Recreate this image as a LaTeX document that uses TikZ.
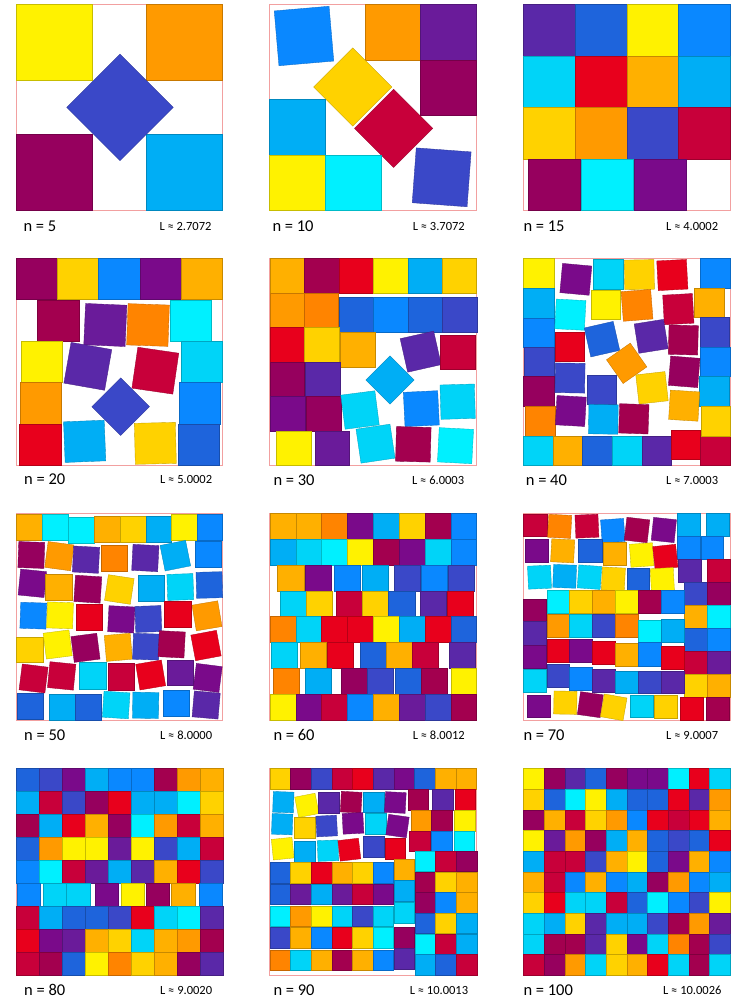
\documentclass[tikz,border=0pt]{standalone}
\usepackage{fontspec}
\setmainfont{Carlito}
\definecolor{cY}{HTML}{FFF200}
\definecolor{cG}{HTML}{FFD200}
\definecolor{cA}{HTML}{FFB000}
\definecolor{cO}{HTML}{FF9A00}
\definecolor{cD}{HTML}{FF8400}
\definecolor{cR}{HTML}{E8001C}
\definecolor{cC}{HTML}{C8003A}
\definecolor{cM}{HTML}{A3004F}
\definecolor{cW}{HTML}{96005E}
\definecolor{cP}{HTML}{7A0A8A}
\definecolor{cQ}{HTML}{6A1B9A}
\definecolor{cV}{HTML}{5A28A8}
\definecolor{cI}{HTML}{3A48C8}
\definecolor{cB}{HTML}{1E64DC}
\definecolor{cZ}{HTML}{0A88FF}
\definecolor{cS}{HTML}{00AEF5}
\definecolor{cL}{HTML}{00D4F8}
\definecolor{cX}{HTML}{00F0FF}
\definecolor{frameC}{HTML}{F2A0A0}
\tikzset{
  sqbox/.style={line width=.35pt},
  frame/.style={draw=frameC, line width=.7pt},
  nlab/.style={anchor=base west, inner sep=0pt, font=\fontsize{16.5}{18}\selectfont},
  llab/.style={anchor=base east, inner sep=0pt, font=\fontsize{12.5}{14}\selectfont},
  panel/.style={scale=1/3}
}
\newcommand\sq[5]{\filldraw[sqbox,fill=#1,draw=#1!78!black] ({#2},{#3}) rectangle ({#4},{#5});}
\newcommand\rs[5]{\filldraw[sqbox,fill=#1,draw=#1!78!black,rotate around={0-(#5):(#2,#3)}] ({#2-#4/2},{#3-#4/2}) rectangle ({#2+#4/2},{#3+#4/2});}
\newcommand\sqrow[4]{\foreach \col [count=\k from 0] in {#4} {\sq{\col}{#1+\k*#3}{#2}{#1+\k*#3+#3}{#2+#3}}}
\begin{document}
\begin{tikzpicture}[x=1pt,y=-1pt]
\useasboundingbox (0,0) rectangle (747,1000);
\fill[white] (0,0) rectangle (747,1000);

% ---------- n = 5
\begin{scope}[shift={(0,0)},panel]
\draw[frame] (48,13) rectangle (668,632);
\sq{cY}{48}{13}{278}{242}
\sq{cO}{440}{13}{668}{242}
\sq{cW}{48}{403}{278}{632}
\sq{cS}{440}{403}{668}{632}
\rs{cI}{360}{322}{226}{45}
\node[nlab] (n5) at (70,695) {n = 5};
\node[llab] (l5) at (635,692) {L ≈ 2.7072};
\end{scope}

% ---------- n = 10
\begin{scope}[shift={(255,0)},panel]
\draw[frame] (43,13) rectangle (665,632);
\rs{cZ}{147}{108}{165}{-4.9}
\sq{cO}{330}{13}{497}{180}
\sq{cQ}{497}{13}{665}{180}
\sq{cW}{497}{180}{665}{347}
\rs{cG}{293}{261}{166}{-45}
\rs{cC}{416}{385}{166}{-45}
\sq{cS}{43}{297}{212}{465}
\sq{cY}{43}{465}{212}{632}
\sq{cX}{212}{465}{380}{632}
\rs{cI}{560}{532}{165}{4.2}
\node[nlab] (n10) at (52,695) {n = 10};
\node[llab] (l10) at (630,692) {L ≈ 3.7072};
\end{scope}

% ---------- n = 15
\begin{scope}[shift={(505,0)},panel]
\draw[frame] (55,13) rectangle (675,632);
\sqrow{55}{13}{155}{cV,cB,cY,cZ}
\sqrow{55}{168}{155}{cL,cR,cA,cS}
\sqrow{55}{323}{155}{cG,cO,cI,cC}
\sq{cW}{70}{478}{225}{632}
\sq{cX}{227}{478}{383}{632}
\sq{cP}{387}{478}{542}{632}
\node[nlab] (n15) at (55,695) {n = 15};
\node[llab] (l15) at (640,692) {L ≈ 4.0002};
\end{scope}

% ---------- n = 20
\begin{scope}[shift={(0,250)},panel]
\draw[frame] (48,25) rectangle (668,645);
\sqrow{48}{25}{124}{cW,cG,cZ,cP,cA}
\sq{cM}{112}{150}{237}{273}
\rs{cQ}{316}{225}{124}{2.5}
\rs{cD}{444}{225}{124}{2}
\sq{cX}{510}{150}{635}{275}
\sq{cY}{63}{275}{188}{398}
\rs{cV}{263.5}{349}{124}{10}
\rs{cC}{466}{362}{124}{8.3}
\sq{cL}{543}{275}{668}{398}
\sq{cO}{60}{398}{185}{522}
\rs{cI}{362}{470}{122}{45}
\sq{cZ}{537}{398}{660}{522}
\sq{cR}{58}{522}{183}{645}
\rs{cS}{254}{574}{122}{-2.3}
\rs{cG}{466}{580}{123}{-1.4}
\sq{cB}{535}{522}{658}{645}
\node[nlab] (n20) at (72,703) {n = 20};
\node[llab] (l20) at (637,700) {L ≈ 5.0002};
\end{scope}

% ---------- n = 30
\begin{scope}[shift={(255,250)},panel]
\draw[frame] (43,25) rectangle (665,645);
\sqrow{45}{25}{103.3}{cA,cM,cR,cY,cS,cG}
\sq{cO}{45}{130}{148}{233}
\sq{cD}{148}{130}{250}{233}
\sqrow{252}{142}{103.3}{cB,cZ,cB,cI}
\sq{cR}{45}{233}{148}{338}
\sq{cG}{148}{233}{252}{338}
\sq{cA}{255}{248}{360}{352}
\rs{cV}{497}{305}{103}{-12.7}
\sq{cC}{557}{255}{662}{358}
\sq{cW}{45}{338}{148}{440}
\sq{cV}{150}{338}{255}{440}
\rs{cS}{405}{390}{102}{45}
\sq{cP}{47}{440}{152}{545}
\sq{cW}{155}{440}{258}{545}
\rs{cL}{315}{480}{103}{-7.3}
\rs{cZ}{499}{476}{103}{-2.8}
\rs{cL}{608}{455}{103}{-1.7}
\sq{cY}{65}{545}{170}{645}
\sq{cQ}{180}{545}{283}{645}
\rs{cL}{361.5}{581}{103}{-8.4}
\rs{cM}{475}{583}{104}{1.5}
\rs{cX}{601.5}{587}{103}{3}
\node[nlab] (n30) at (55,705) {n = 30};
\node[llab] (l30) at (628,702) {L ≈ 6.0003};
\end{scope}

% ---------- n = 40
\begin{scope}[shift={(505,250)},panel]
\draw[frame] (55,25) rectangle (675,645);
\sq{cY}{55}{25}{147}{115}
\sq{cS}{55}{115}{147}{205}
\sq{cZ}{55}{205}{147}{292}
\sq{cI}{58}{292}{147}{380}
\sq{cW}{55}{380}{147}{468}
\sq{cD}{60}{468}{150}{558}
\sq{cL}{55}{558}{145}{645}
\sq{cA}{145}{558}{232}{645}
\sq{cB}{232}{558}{320}{645}
\sq{cL}{320}{558}{410}{645}
\sq{cV}{410}{558}{498}{645}
\sq{cR}{498}{540}{586}{628}
\sq{cC}{586}{558}{675}{645}
\sq{cZ}{585}{25}{675}{115}
\sq{cA}{567}{115}{657}{203}
\sq{cI}{585}{203}{673}{292}
\sq{cZ}{585}{292}{675}{380}
\sq{cS}{583}{380}{673}{468}
\sq{cG}{587}{468}{675}{558}
\rs{cP}{212.5}{88}{88}{5.2}
\sq{cL}{265}{28}{353}{118}
\rs{cG}{403}{74}{89}{-1}
\rs{cR}{502}{75}{89}{-3}
\rs{cX}{196}{194}{89}{3}
\sq{cY}{257}{120}{345}{208}
\rs{cD}{396}{166}{89}{-4.5}
\rs{cC}{520}{177.5}{89}{-3.2}
\sq{cR}{150}{247}{238}{335}
\rs{cB}{291}{267.5}{89}{-12.8}
\rs{cV}{438.5}{259}{89}{-9}
\rs{cM}{535}{270}{88}{1.5}
\rs{cO}{365}{340}{87}{-35}
\rs{cI}{195}{384}{89}{1}
\rs{cW}{537.5}{365.5}{88}{4.5}
\sq{cI}{245}{375}{333}{462}
\rs{cG}{441}{413.5}{88}{-6.5}
\rs{cP}{197.5}{483}{88}{3.2}
\rs{cS}{295}{508}{88}{1}
\rs{cM}{386.5}{506.5}{88}{2}
\rs{cA}{537.5}{467}{88}{3.5}
\node[nlab] (n40) at (62,705) {n = 40};
\node[llab] (l40) at (640,702) {L ≈ 7.0003};
\end{scope}

% ---------- n = 50
\begin{scope}[shift={(0,505)},panel]
\draw[frame] (48,25) rectangle (668,645);
\sq{cA}{50}{28}{128}{105}
\sq{cX}{128}{28}{205}{105}
\sq{cX}{205}{38}{283}{115}
\sq{cA}{283}{35}{360}{113}
\sq{cG}{360}{35}{438}{113}
\sq{cS}{438}{35}{515}{113}
\sq{cY}{515}{28}{592}{105}
\sq{cZ}{592}{28}{668}{105}
\rs{cW}{94}{150}{78}{2}
\rs{cO}{178}{153.5}{78}{7.6}
\rs{cV}{258}{164}{78}{3}
\sq{cD}{303}{120}{381}{198}
\rs{cV}{436}{159}{78}{3}
\rs{cS}{526}{152}{78}{-11.3}
\sq{cZ}{587}{110}{665}{188}
\rs{cP}{97}{235}{78}{5.7}
\sq{cA}{137}{208}{217}{287}
\rs{cW}{263.5}{252.5}{79}{3.6}
\rs{cG}{358}{253.5}{78}{8.6}
\sq{cS}{415}{210}{493}{288}
\rs{cL}{541}{246}{78}{-2}
\rs{cB}{628}{240}{78}{-1.5}
\rs{cZ}{100}{332}{78}{2}
\rs{cY}{180}{331}{78}{2}
\sq{cR}{230}{298}{307}{375}
\rs{cP}{364}{343}{78}{3}
\rs{cI}{445}{342}{78}{-2}
\sq{cR}{493}{290}{573}{368}
\rs{cO}{621}{332.5}{78}{-9.6}
\sq{cG}{50}{397}{130}{473}
\rs{cY}{173}{418.5}{78}{-7.3}
\rs{cW}{256.5}{428.5}{78}{-7.4}
\rs{cA}{355}{427}{78}{-5}
\rs{cI}{438}{425}{78}{2}
\rs{cM}{515}{418}{78}{3}
\rs{cR}{618}{421.5}{78}{-10.6}
\rs{cC}{100.75}{520.5}{78}{7.1}
\rs{cC}{185}{512.75}{78}{5.7}
\sq{cL}{238}{473}{318}{552}
\sq{cC}{325}{475}{403}{555}
\rs{cR}{452}{510}{78}{-9.5}
\sq{cQ}{502}{465}{580}{542}
\rs{cP}{623}{518.75}{78}{7.2}
\sq{cB}{52}{565}{130}{643}
\sq{cS}{148}{567}{226}{645}
\sq{cB}{226}{567}{305}{645}
\rs{cL}{348.5}{600}{78}{3.7}
\rs{cS}{437}{601}{78}{1}
\sq{cZ}{490}{555}{568}{633}
\rs{cV}{618.5}{600}{78}{5}
\node[nlab] (n50) at (72,707) {n = 50};
\node[llab] (l50) at (637,704) {L ≈ 8.0000};
\end{scope}

% ---------- n = 60
\begin{scope}[shift={(255,505)},panel]
\draw[frame] (43,25) rectangle (665,645);
\sqrow{45}{25}{77.5}{cA,cA,cD,cP,cS,cG,cM,cZ}
\sqrow{45}{103}{77.5}{cS,cL,cX,cY,cM,cP,cL,cZ}
\sq{cA}{68}{180}{148}{258}
\sq{cP}{150}{180}{230}{258}
\sq{cZ}{238}{180}{316}{258}
\sq{cS}{322}{180}{400}{258}
\sq{cI}{418}{180}{496}{258}
\sq{cZ}{498}{180}{578}{258}
\sq{cI}{580}{180}{658}{258}
\sq{cL}{75}{258}{155}{335}
\sq{cG}{155}{258}{233}{335}
\sq{cC}{243}{258}{321}{335}
\sq{cG}{323}{258}{401}{335}
\sq{cB}{401}{258}{480}{335}
\sq{cV}{495}{258}{573}{335}
\sq{cR}{578}{258}{656}{335}
\sqrow{45}{335}{77.5}{cD,cL,cR,cR,cY,cS,cR,cB}
\sq{cL}{50}{413}{128}{490}
\sq{cA}{135}{413}{213}{490}
\sq{cR}{218}{413}{296}{490}
\sq{cB}{316}{413}{394}{490}
\sq{cA}{394}{413}{472}{490}
\sq{cC}{472}{413}{550}{490}
\sq{cV}{583}{413}{661}{490}
\sq{cD}{55}{490}{133}{568}
\sq{cS}{150}{490}{228}{568}
\sq{cW}{258}{490}{336}{568}
\sq{cI}{338}{490}{416}{568}
\sq{cB}{420}{490}{498}{568}
\sq{cM}{498}{490}{576}{568}
\sq{cY}{588}{490}{665}{568}
\sqrow{45}{568}{77.5}{cY,cP,cC,cZ,cA,cQ,cI,cM}
\node[nlab] (n60) at (55,705) {n = 60};
\node[llab] (l60) at (630,702) {L ≈ 8.0012};
\end{scope}

% ---------- n = 70
\begin{scope}[shift={(505,505)},panel]
\draw[frame] (55,25) rectangle (675,645);
\sq{cS}{517}{25}{585}{93}
\sq{cS}{603}{25}{671}{93}
\sq{cZ}{517}{93}{585}{163}
\sq{cZ}{587}{93}{655}{163}
\sq{cV}{520}{163}{588}{233}
\sq{cC}{605}{163}{675}{233}
\sqrow{538}{233}{68.5}{cI,cW}
\sqrow{538}{301}{68.5}{cA,cX}
\sqrow{538}{370}{68.5}{cB,cZ}
\sqrow{538}{438}{68.5}{cC,cQ}
\sqrow{538}{507}{68.5}{cG,cA}
\sq{cR}{525}{576}{593}{645}
\sq{cM}{603}{576}{671}{645}
\sq{cC}{55}{28}{125}{95}
\rs{cD}{164}{64}{69}{3}
\rs{cC}{245.75}{63.5}{69}{-2.5}
\rs{cZ}{323.5}{77}{69}{-4}
\rs{cM}{396}{75}{69}{6.7}
\rs{cP}{476.5}{75}{69}{6}
\sq{cP}{60}{103}{128}{172}
\rs{cA}{173}{137.5}{69}{3}
\sq{cB}{220}{103}{290}{172}
\sq{cA}{293}{113}{362}{182}
\rs{cY}{410}{150}{69}{-4}
\rs{cR}{481}{155.75}{69}{-6}
\rs{cL}{103.5}{216.5}{69}{-2.5}
\rs{cS}{179}{214}{69}{2}
\rs{cL}{253.5}{216.5}{69}{4}
\rs{cG}{325}{222}{69}{3}
\sq{cB}{365}{190}{433}{258}
\rs{cY}{472}{224}{69}{-3}
\sqrow{125}{255}{68.8}{cX,cG,cA,cY,cM,cZ}
\sq{cW}{55}{282}{123}{350}
\sq{cV}{55}{350}{123}{420}
\sq{cP}{55}{420}{123}{490}
\sq{cL}{55}{493}{123}{563}
\sq{cO}{125}{328}{193}{397}
\sq{cL}{193}{328}{262}{397}
\sq{cI}{262}{328}{330}{397}
\sq{cD}{330}{328}{400}{397}
\sq{cX}{400}{345}{468}{413}
\sq{cS}{468}{343}{538}{412}
\sq{cR}{125}{403}{193}{473}
\sq{cP}{193}{403}{262}{473}
\sq{cR}{262}{410}{330}{478}
\sq{cA}{330}{415}{400}{485}
\sq{cZ}{400}{413}{468}{483}
\sq{cR}{468}{425}{538}{493}
\sq{cI}{125}{478}{193}{548}
\sq{cZ}{193}{488}{262}{555}
\sq{cV}{262}{493}{330}{562}
\sq{cS}{330}{498}{400}{566}
\sq{cI}{400}{498}{468}{566}
\sq{cV}{468}{498}{538}{566}
\sq{cP}{65}{570}{135}{638}
\rs{cG}{181}{593}{69}{1}
\rs{cW}{256}{599}{69}{8}
\rs{cG}{326}{607}{69}{10}
\sq{cL}{375}{570}{443}{638}
\sq{cG}{447}{572}{517}{640}
\node[nlab] (n70) at (55,705) {n = 70};
\node[llab] (l70) at (640,702) {L ≈ 9.0007};
\end{scope}

% ---------- n = 80
\begin{scope}[shift={(0,760)},panel]
\draw[frame] (48,25) rectangle (668,645);
\sqrow{48}{25}{68.9}{cB,cI,cP,cS,cZ,cZ,cM,cO,cA}
\sqrow{48}{93.9}{68.9}{cS,cC,cI,cW,cR,cS,cS,cX,cG}
\sqrow{48}{162.8}{68.9}{cM,cS,cR,cA,cW,cX,cO,cC,cA}
\sqrow{48}{231.7}{68.9}{cB,cO,cY,cY,cQ,cY,cI,cS,cC}
\sqrow{48}{300.6}{68.9}{cZ,cX,cC,cQ,cS,cV,cA,cR,cI}
\sq{cZ}{52}{369.5}{120}{438.4}
\sq{cL}{130}{369.5}{198}{438.4}
\sq{cL}{200}{369.5}{270}{438.4}
\sq{cP}{285}{369.5}{355}{438.4}
\sq{cY}{363}{369.5}{433}{438.4}
\sq{cW}{440}{369.5}{508}{438.4}
\sq{cA}{515}{369.5}{585}{438.4}
\sq{cZ}{598}{369.5}{668}{438.4}
\sqrow{48}{438.4}{68.9}{cC,cS,cB,cB,cI,cR,cL,cX,cV}
\sqrow{48}{507.3}{68.9}{cR,cP,cQ,cA,cG,cL,cA,cO,cM}
\sqrow{48}{576.2}{68.9}{cC,cM,cB,cY,cD,cG,cA,cW,cV}
\node[nlab] (n80) at (72,707) {n = 80};
\node[llab] (l80) at (637,704) {L ≈ 9.0020};
\end{scope}

% ---------- n = 90
\begin{scope}[shift={(255,760)},panel]
\draw[frame] (43,25) rectangle (665,645);
\sqrow{45}{25}{62}{cG,cW,cI,cC,cR,cV,cP,cB,cA,cA}
\sq{cM}{460}{88}{520}{150}
\sq{cV}{532}{88}{595}{150}
\sq{cR}{600}{88}{662}{150}
\sq{cO}{468}{150}{530}{212}
\sq{cM}{530}{150}{592}{212}
\sq{cY}{598}{150}{660}{212}
\sq{cC}{463}{212}{525}{273}
\sq{cZ}{530}{212}{592}{273}
\sq{cX}{597}{212}{657}{273}
\sqrow{480}{273}{61.7}{cX,cC,cW}
\sqrow{480}{335}{61.7}{cM,cG,cA}
\sqrow{480}{397}{61.7}{cW,cZ,cA}
\sqrow{480}{459}{61.7}{cB,cG,cS}
\sqrow{480}{521}{61.7}{cX,cC,cS}
\sqrow{480}{583}{61.7}{cS,cB,cC}
\rs{cS}{85}{126.5}{62}{2}
\rs{cY}{155.5}{136}{62}{-11}
\sq{cV}{190}{95}{253}{158}
\rs{cM}{288.5}{126.5}{62}{3}
\sq{cS}{325}{95}{388}{157}
\rs{cP}{421}{127.5}{62}{3}
\rs{cS}{81.5}{192.5}{62}{2}
\sq{cG}{118}{172}{180}{235}
\rs{cI}{215}{198}{62}{-3}
\rs{cP}{294}{190}{62}{-3}
\sq{cL}{330}{160}{393}{223}
\rs{cP}{427.5}{198}{62}{8}
\rs{cY}{83}{266}{62}{-5.7}
\sq{cS}{117}{242}{180}{305}
\rs{cL}{219}{272}{62}{-2}
\rs{cR}{283}{269}{62}{-6.6}
\sq{cI}{325}{228}{387}{290}
\sq{cR}{390}{235}{452}{297}
\sqrow{45}{307}{61.8}{cB,cG,cR,cA,cG,cZ}
\sq{cA}{417}{297}{478}{360}
\sqrow{45}{372}{61.8}{cB,cQ,cS,cQ,cC,cP}
\sq{cS}{417}{360}{478}{422}
\sqrow{45}{437}{61.8}{cX,cO,cY,cL,cI,cL}
\sq{cL}{417}{425}{478}{488}
\sqrow{45}{502}{61.8}{cI,cA,cZ,cR,cG,cX}
\sq{cW}{417}{500}{478}{563}
\sqrow{45}{570}{61.8}{cD,cL,cA,cM,cA,cZ}
\sq{cV}{417}{565}{478}{628}
\node[nlab] (n90) at (55,705) {n = 90};
\node[llab] (l90) at (640,702) {L ≈ 10.0013};
\end{scope}

% ---------- n = 100
\begin{scope}[shift={(505,760)},panel]
\draw[frame] (55,25) rectangle (675,645);
\sqrow{55}{25}{62}{cY,cW,cV,cB,cW,cP,cP,cX,cR,cL}
\sqrow{55}{87}{62}{cG,cB,cX,cY,cS,cB,cB,cR,cV,cO}
\sqrow{55}{149}{62}{cW,cA,cC,cG,cO,cZ,cR,cC,cR,cA}
\sqrow{55}{211}{62}{cY,cQ,cO,cW,cS,cA,cB,cI,cB,cR}
\sqrow{55}{273}{62}{cS,cC,cC,cI,cA,cY,cB,cP,cA,cZ}
\sqrow{55}{335}{62}{cA,cC,cZ,cA,cZ,cS,cW,cO,cZ,cS}
\sqrow{55}{397}{62}{cG,cR,cL,cL,cC,cB,cX,cZ,cI,cY}
\sqrow{55}{459}{62}{cL,cS,cG,cV,cS,cS,cI,cM,cO,cQ}
\sqrow{55}{521}{62}{cL,cM,cM,cV,cG,cP,cL,cD,cM,cI}
\sqrow{55}{583}{62}{cC,cW,cO,cL,cG,cA,cR,cL,cM,cL}
\node[nlab] (n100) at (55,705) {n = 100};
\node[llab] (l100) at (650,702) {L ≈ 10.0026};
\end{scope}
\end{tikzpicture}
\end{document}
